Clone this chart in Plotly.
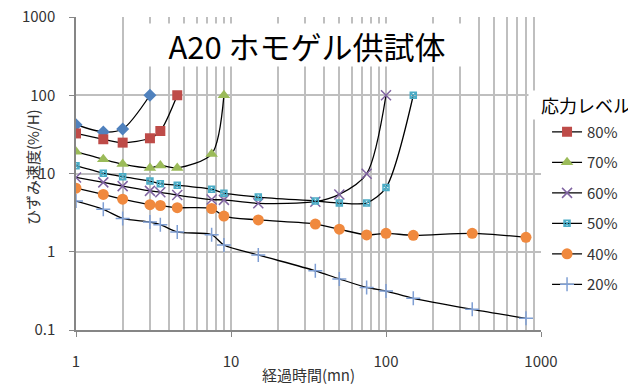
import plotly.graph_objects as go

# ---- data ----
x_90 = [1, 1.5, 2, 3]
y_90 = [42, 34, 37, 100]

x_80 = [1, 1.5, 2, 3, 3.5, 4.5]
y_80 = [32.5, 27.4, 24.8, 28.2, 34.9, 100]

x_70 = [1, 1.5, 2, 3, 3.5, 4.5, 7.5, 9]
y_70 = [19, 15.2, 13.2, 11.8, 12.7, 11.8, 17.7, 100]

x_60 = [1, 1.5, 2, 3, 3.5, 4.5, 7.5, 9, 15, 35, 50, 75, 100]
y_60 = [8.9, 7.7, 6.9, 6.0, 5.75, 5.3, 4.65, 4.6, 4.16, 4.36, 5.4, 9.9, 100]

x_50 = [1, 1.5, 2, 3, 3.5, 4.5, 7.5, 9, 15, 35, 50, 75, 100, 150]
y_50 = [12.6, 10.1, 9.1, 8.0, 7.4, 7.1, 6.3, 5.6, 5.0, 4.45, 4.2, 4.2, 6.6, 100]

x_40 = [1, 1.5, 2, 3, 3.5, 4.5, 7.5, 9, 15, 35, 50, 75, 100, 150, 360, 800]
y_40 = [6.5, 5.4, 4.7, 4.0, 3.9, 3.66, 3.57, 2.86, 2.55, 2.26, 1.94, 1.64, 1.72, 1.62, 1.72, 1.53]

x_20 = [1, 1.5, 2, 3, 3.5, 4.5, 7.5, 9, 15, 35, 50, 75, 100, 150, 360, 800]
y_20 = [4.45, 3.49, 2.67, 2.4, 2.22, 1.79, 1.65, 1.22, 0.91, 0.57, 0.45, 0.35, 0.315, 0.254, 0.184, 0.141]

y_tickvals = [0.1, 1, 10, 100, 1000]
y_ticktext = ["0.1", "1", "10", "100", "1000"]
x_tickvals = [1, 10, 100, 1000]
x_ticktext = ["1", "10", "100", "1000"]

FONT = "Noto Sans CJK JP"
GRID = "#bfbfbf"
TXT = "#333333"

series = [
    ("90%", x_90, y_90, "diamond", 10, "#4f81bd", False),
    ("80%", x_80, y_80, "square", 10, "#be4b48", True),
    ("70%", x_70, y_70, "triangle-up", 11, "#9bbb59", True),
    ("60%", x_60, y_60, "x-thin-open", 10, "#8064a2", True),
    ("50%", x_50, y_50, "square-x-open", 6, "#4bacc6", True),
    ("40%", x_40, y_40, "circle", 11, "#f0893e", True),
    ("20%", x_20, y_20, "cross-thin-open", 10, "#7f9fd4", True),
]

fig = go.Figure()
for name, xs, ys, sym, size, col, show in series:
    fig.add_trace(go.Scatter(
        x=xs, y=ys, name=name, mode="lines+markers",
        line=dict(color="black", width=1.3, shape="spline", smoothing=0.8),
        marker=dict(symbol=sym, size=size, color=col,
                    line=dict(color=col, width=1.5 if "open" in sym else 0)),
        showlegend=show, legendgroup=name,
    ))

# page body has an 8px margin: figure is sized so that it fills the 636x385 window
fig.update_layout(
    width=628, height=377,
    margin=dict(l=68, r=95, t=9, b=55, autoexpand=False),
    paper_bgcolor="white", plot_bgcolor="white",
    font=dict(family=FONT, size=15, color=TXT),
    legend=dict(x=1.013, xanchor="left", y=0.685, yanchor="top",
                font=dict(size=15, color=TXT),
                tracegroupgap=8, bgcolor="rgba(0,0,0,0)"),
    xaxis=dict(type="log", range=[0, 3], automargin=False,
               tickvals=x_tickvals, ticktext=x_ticktext,
               ticks="outside", ticklen=5, tickcolor="#868686",
               showline=True, linecolor="#868686", linewidth=1.5,
               showgrid=True, gridcolor=GRID, gridwidth=1.5,
               minor=dict(dtick="D1", showgrid=True, gridcolor=GRID, gridwidth=1.5, ticks=""),
               ticklabelstandoff=12, ticklabeloverflow="allow",
               title=dict(text="経過時間(mn)", font=dict(size=15, color=TXT), standoff=3),
               tickfont=dict(size=15, color=TXT)),
    yaxis=dict(type="log", range=[-1, 3], automargin=False,
               tickvals=y_tickvals, ticktext=y_ticktext,
               ticks="outside", ticklen=5, tickcolor="#868686",
               showline=True, linecolor="#868686", linewidth=1.5,
               showgrid=True, gridcolor=GRID, gridwidth=1.5,
               ticklabelstandoff=11, ticklabeloverflow="allow",
               tickfont=dict(size=15, color=TXT)),
    annotations=[
        dict(text="A20 ホモゲル供試体", xref="paper", yref="paper", x=0.497, y=0.91,
             xanchor="center", yanchor="middle", showarrow=False,
             font=dict(size=31, color="black", family=FONT),
             bgcolor="white", width=318, height=40),
        dict(text="応力レベル", xref="paper", yref="paper", x=1.097, y=0.719,
             xanchor="center", yanchor="middle", showarrow=False,
             font=dict(size=18, color="black", family=FONT),
             bgcolor="white", width=112, height=26),
        dict(text="ひずみ速度(%/H)", xref="paper", yref="paper", x=-0.095, y=0.52,
             xanchor="center", yanchor="middle", showarrow=False, textangle=-90,
             font=dict(size=15, color=TXT, family=FONT)),
    ],
)

fig.write_html("out.html")
